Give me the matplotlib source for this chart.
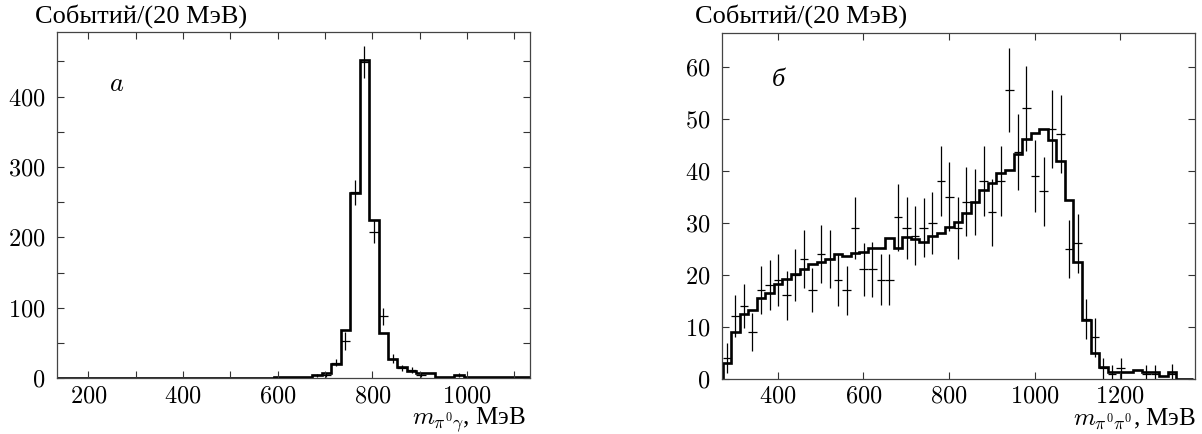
import matplotlib
matplotlib.use("Agg")
import matplotlib.pyplot as plt
from matplotlib.ticker import MultipleLocator

plt.rcParams["font.family"] = "cmr10"
plt.rcParams["mathtext.fontset"] = "cm"
plt.rcParams["axes.formatter.use_mathtext"] = True

# --- panel a: m(pi0 gamma), 20 MeV bins from 133 MeV
edges_a = [133 + 20 * k for k in range(51)]
mc_a = [0] * 23 + [1.5, 1.5, 1.5, 1.5, 4, 8, 20, 68, 263, 452, 224, 65, 28, 16,
                   11, 7, 7, 2, 2, 5, 2, 2, 2, 2, 2, 2, 2]
data_a_x = [683, 703, 723, 743, 763, 783, 803, 823, 843, 863, 883, 903, 983]
data_a_y = [4, 5, 22, 53, 264, 449, 208, 88, 28, 15, 12, 5, 5]
data_a_err = [2.5, 3, 5, 12.5, 17.5, 23, 16.5, 12, 6, 4.5, 4, 3, 3]

# --- panel b: m(pi0 pi0), 20 MeV bins from 271 MeV
edges_b = [271 + 20 * k for k in range(56)]
mc_b = [3.0, 9.0, 12.4, 13.3, 15.6, 16.5, 18.2, 19.1, 20.1, 21.1, 22.1, 22.5,
        23.1, 24.0, 23.5, 24.1, 24.4, 25.1, 25.1, 27.0, 25.1, 27.2, 26.8, 26.2,
        27.4, 28.0, 29.1, 30.2, 31.8, 34.0, 36.3, 37.7, 39.5, 40.1, 43.2, 46.0,
        47.2, 48.0, 45.9, 41.9, 34.4, 22.5, 11.3, 5.0, 2.3, 1.2, 1.2, 1.2, 1.7,
        1.2, 1.2, 0.6, 1.2, 0, 0]
data_b_x = [281, 301, 321, 341, 361, 381, 401, 421, 441, 461, 481, 501, 521,
            541, 561, 581, 601, 621, 641, 661, 681, 701, 721, 741, 761, 781,
            801, 821, 841, 861, 881, 901, 921, 941, 961, 981, 1001, 1021, 1041,
            1061, 1081, 1101, 1121, 1141, 1161, 1181, 1201, 1261, 1281, 1321]
data_b_y = [4, 12, 14, 9, 17, 18, 19, 16, 20, 23, 17, 24, 23, 19, 17, 29, 21,
            21, 19, 19, 31, 29, 27.5, 29, 30, 38, 35, 29, 34, 34, 38, 32, 38,
            55.5, 43.5, 52, 39, 36, 48, 47, 25, 26, 11.5, 8, 2, 1, 2, 1, 1, 1]
data_b_err = [2.9, 4.0, 4.25, 3.7, 4.65, 4.85, 5.05, 4.65, 5.0, 5.55, 4.2, 5.6,
              5.55, 5.05, 4.7, 6.0, 5.15, 5.25, 4.9, 4.9, 6.45, 5.9, 5.65, 5.7,
              5.95, 6.75, 6.6, 5.95, 6.6, 6.4, 6.75, 6.45, 6.75, 8.0, 7.3, 8.15,
              6.95, 6.7, 7.5, 7.5, 5.6, 5.6, 3.9, 3.75, 2.0, 1.6, 2.0, 1.6, 1.6,
              1.8]

fig = plt.figure(figsize=(12.02, 4.34), dpi=100)
ax1 = fig.add_axes([0.0472, 0.1283, 0.3937, 0.7987])
ax2 = fig.add_axes([0.6004, 0.1274, 0.3938, 0.7972])

cyr = "Liberation Serif"
fs = 17.5
fs_cyr = 19

for ax in (ax1, ax2):
    for s in ax.spines.values():
        s.set_linewidth(0.9)
        s.set_color("#444444")
    ax.tick_params(which="both", direction="in", top=True, right=True,
                   length=5, width=0.8, color="#333333", labelsize=fs)
    ax.tick_params(axis="x", which="both", pad=5)
    ax.tick_params(axis="y", which="both", pad=8)

# panel a
ax1.stairs(mc_a, edges_a, color="black", linewidth=1.9)
ax1.errorbar(data_a_x, data_a_y, xerr=10, yerr=data_a_err, fmt="none",
             ecolor="black", elinewidth=0.9, capsize=0)
ax1.set_xlim(133, 1133)
ax1.set_ylim(0, 492)
ax1.xaxis.set_major_locator(MultipleLocator(200))
ax1.xaxis.set_minor_locator(MultipleLocator(100))
ax1.yaxis.set_major_locator(MultipleLocator(100))
ax1.yaxis.set_minor_locator(MultipleLocator(50))
ax1.text(0.127, 0.849, r"$a$", transform=ax1.transAxes, fontsize=fs_cyr,
         ha="center", va="center")

# panel b
ax2.stairs(mc_b, edges_b, color="black", linewidth=1.9)
ax2.errorbar(data_b_x, data_b_y, xerr=10, yerr=data_b_err, fmt="none",
             ecolor="black", elinewidth=0.9, capsize=0)
ax2.set_xlim(269, 1375)
ax2.set_ylim(0, 66.5)
ax2.xaxis.set_major_locator(MultipleLocator(200))
ax2.yaxis.set_major_locator(MultipleLocator(10))
ax2.text(0.119, 0.864, "б", transform=ax2.transAxes, fontsize=fs_cyr,
         family=cyr, style="italic", ha="center", va="center")

# axis titles
fig.text(0.029, 0.948, "Событий/(20 МэВ)", family=cyr, fontsize=fs_cyr,
         ha="left", va="baseline")
fig.text(0.578, 0.948, "Событий/(20 МэВ)", family=cyr, fontsize=fs_cyr,
         ha="left", va="baseline")
ax1.text(0.992, -0.133, r"$m_{\pi^0\gamma}$, МэВ", transform=ax1.transAxes,
         family=cyr, fontsize=18, ha="right", va="baseline")
ax2.text(1.003, -0.133, r"$m_{\pi^0\pi^0}$, МэВ", transform=ax2.transAxes,
         family=cyr, fontsize=18, ha="right", va="baseline")

fig.savefig("out.png", dpi=100)
